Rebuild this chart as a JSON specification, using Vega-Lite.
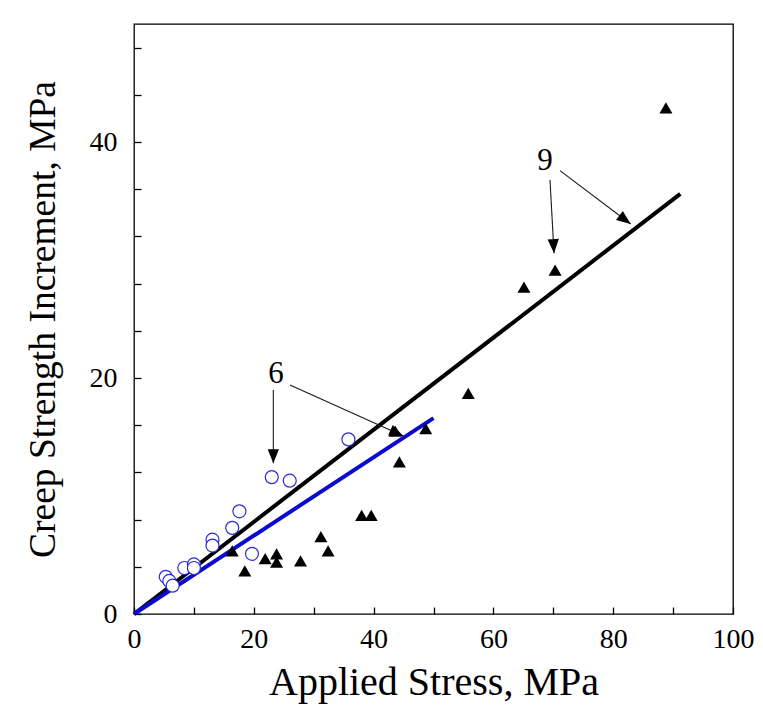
{
  "$schema": "https://vega.github.io/schema/vega-lite/v6.json",
  "width": 599,
  "height": 590,
  "autosize": "none",
  "padding": {"left": 134, "top": 24, "right": 30, "bottom": 110},
  "background": "white",
  "config": {
    "view": {"stroke": "black", "strokeWidth": 1.3},
    "font": "Liberation Serif"
  },
  "datasets": {
    "lines": [
      {"series": "9", "x": 0, "y": 0},
      {"series": "9", "x": 91.2, "y": 35.6},
      {"series": "6", "x": 0, "y": 0},
      {"series": "6", "x": 50, "y": 16.6}
    ],
    "circles": [
      {"stress": 5.3, "increment": 3.15},
      {"stress": 5.9, "increment": 2.8},
      {"stress": 6.45, "increment": 2.4},
      {"stress": 8.4, "increment": 3.9},
      {"stress": 10.0, "increment": 4.2},
      {"stress": 10.0, "increment": 3.9},
      {"stress": 13.1, "increment": 6.3},
      {"stress": 13.1, "increment": 5.8},
      {"stress": 16.4, "increment": 7.3},
      {"stress": 17.6, "increment": 8.7},
      {"stress": 19.7, "increment": 5.1},
      {"stress": 23.0, "increment": 11.6},
      {"stress": 26.0, "increment": 11.3},
      {"stress": 35.8, "increment": 14.8}
    ],
    "triangles": [
      {"stress": 16.4, "increment": 5.35},
      {"stress": 18.5, "increment": 3.65},
      {"stress": 21.9, "increment": 4.7},
      {"stress": 23.8, "increment": 5.1},
      {"stress": 23.8, "increment": 4.4},
      {"stress": 27.8, "increment": 4.5},
      {"stress": 31.2, "increment": 6.55},
      {"stress": 32.4, "increment": 5.35},
      {"stress": 38.0, "increment": 8.35},
      {"stress": 39.6, "increment": 8.35},
      {"stress": 44.3, "increment": 12.9},
      {"stress": 43.6, "increment": 15.5},
      {"stress": 48.7, "increment": 15.7},
      {"stress": 55.8, "increment": 18.7},
      {"stress": 65.1, "increment": 27.7},
      {"stress": 70.3, "increment": 29.15},
      {"stress": 88.8, "increment": 42.9}
    ],
    "arrows": [
      {"x": 23.26, "y": 18.98, "x2": 23.26, "y2": 12.77, "angle": 90},
      {"x": 26.04, "y": 19.41, "x2": 44.96, "y2": 15.08, "angle": 24.2},
      {"x": 69.45, "y": 36.78, "x2": 70.12, "y2": 30.57, "angle": 86.9},
      {"x": 71.12, "y": 37.57, "x2": 82.92, "y2": 33.05, "angle": 37.0}
    ],
    "labels": [
      {"x": 23.7, "y": 19.55, "text": "6"},
      {"x": 68.6, "y": 37.6, "text": "9"}
    ]
  },
  "layer": [
    {
      "data": {"name": "lines"},
      "mark": {"type": "line", "strokeWidth": 4, "strokeCap": "butt"},
      "encoding": {
        "x": {
          "field": "x", "type": "quantitative",
          "scale": {"domain": [0, 100], "nice": false, "zero": false},
          "axis": {
            "orient": "bottom",
            "title": "Applied Stress, MPa",
            "values": [0,5,10,15,20,25,30,35,40,45,50,55,60,65,70,75,80,85,90,95,100],
            "labelExpr": "datum.value % 20 === 0 ? datum.label : ''",
            "ticks": true,
            "tickSize": -7,
            "tickColor": "black", "tickWidth": 1.3, "tickOpacity": 1,
            "domain": false, "grid": false,
            "labelFont": "Liberation Serif", "labelFontSize": 28, "labelColor": "black",
            "labelPadding": 18, "labelFlush": false, "labelOverlap": false,
            "titleFont": "Liberation Serif", "titleFontSize": 40, "titleFontWeight": "normal",
            "titleColor": "black", "titlePadding": 9
          }
        },
        "y": {
          "field": "y", "type": "quantitative",
          "scale": {"domain": [0, 50], "nice": false, "zero": false},
          "axis": {
            "orient": "left",
            "title": "Creep Strength Increment, MPa",
            "values": [0,2,4,6,8,10,12,14,16,18,20,22,24,26,28,30,32,34,36,38,40,42,44,46,48,50],
            "labelExpr": "datum.value % 10 === 0 ? datum.label : ''",
            "ticks": true,
            "tickSize": -7,
            "tickColor": "black", "tickWidth": 1.3, "tickOpacity": 1,
            "domain": false, "grid": false,
            "labelFont": "Liberation Serif", "labelFontSize": 28, "labelColor": "black",
            "labelPadding": 24, "labelFlush": false, "labelOverlap": false,
            "titleFont": "Liberation Serif", "titleFontSize": 37.5, "titleFontWeight": "normal",
            "titleColor": "black", "titlePadding": 27
          }
        },
        "color": {
          "field": "series", "type": "nominal",
          "scale": {"domain": ["9", "6"], "range": ["black", "#0a0ad0"]},
          "legend": null
        }
      }
    },
    {
      "data": {"name": "circles"},
      "mark": {"type": "point", "shape": "circle", "size": 169, "filled": false, "fill": "white", "fillOpacity": 1, "stroke": "#2b2bd9", "strokeWidth": 1.2, "opacity": 1},
      "encoding": {
        "x": {"field": "stress", "type": "quantitative"},
        "y": {"field": "increment", "type": "quantitative"}
      }
    },
    {
      "data": {"name": "triangles"},
      "mark": {"type": "point", "shape": "triangle-up", "size": 169, "filled": true, "color": "black", "opacity": 1},
      "encoding": {
        "x": {"field": "stress", "type": "quantitative"},
        "y": {"field": "increment", "type": "quantitative"}
      }
    },
    {
      "data": {"name": "arrows"},
      "mark": {"type": "rule", "color": "#1a1a1a", "strokeWidth": 1.1},
      "encoding": {
        "x": {"field": "x", "type": "quantitative"},
        "y": {"field": "y", "type": "quantitative"},
        "x2": {"field": "x2"},
        "y2": {"field": "y2"}
      }
    },
    {
      "data": {"name": "arrows"},
      "mark": {"type": "point", "shape": "M0,0L-1,-0.4L-1,0.4Z", "size": 800, "filled": true, "color": "black", "opacity": 1, "strokeWidth": 0},
      "encoding": {
        "x": {"field": "x2", "type": "quantitative"},
        "y": {"field": "y2", "type": "quantitative"},
        "angle": {"field": "angle", "type": "quantitative", "scale": null}
      }
    },
    {
      "data": {"name": "labels"},
      "mark": {"type": "text", "font": "Liberation Serif", "fontSize": 31, "color": "black", "align": "center", "baseline": "alphabetic"},
      "encoding": {
        "x": {"field": "x", "type": "quantitative"},
        "y": {"field": "y", "type": "quantitative"},
        "text": {"field": "text"}
      }
    }
  ]
}
